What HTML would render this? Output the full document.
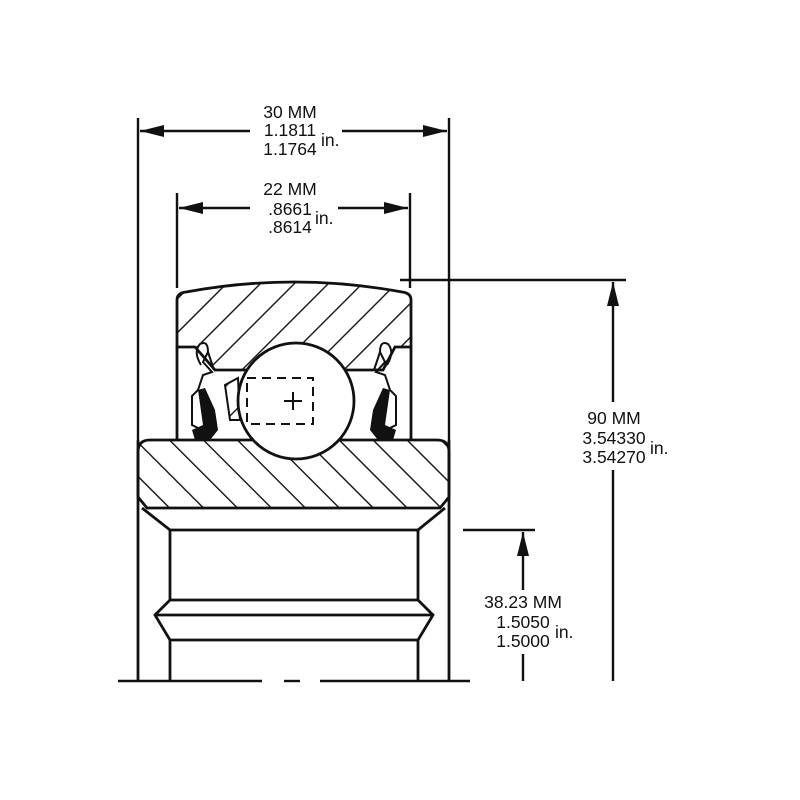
<!DOCTYPE html>
<html><head><style>
html,body{margin:0;padding:0;background:#fff;}
svg{display:block;}
text{font-family:"Liberation Sans",Arial,sans-serif;font-size:17.5px;fill:#111;}
</style></head><body>
<svg width="800" height="800" viewBox="0 0 800 800" xmlns="http://www.w3.org/2000/svg">
<defs>
<pattern id="h1" patternUnits="userSpaceOnUse" width="24" height="24" patternTransform="rotate(45)">
<line x1="0" y1="0" x2="0" y2="24" stroke="#111" stroke-width="2.8"/>
</pattern>
<pattern id="h2" patternUnits="userSpaceOnUse" width="24" height="24" patternTransform="rotate(-45)">
<line x1="0" y1="0" x2="0" y2="24" stroke="#111" stroke-width="2.8"/>
</pattern>
<marker id="ar" viewBox="0 0 20 10" refX="20" refY="5" markerWidth="26" markerHeight="12" markerUnits="userSpaceOnUse" orient="auto">
<path d="M0,0 L20,5 L0,10 Z" fill="#111"/>
</marker>
</defs>
<g stroke="#111" stroke-width="2.4" fill="none">
<line x1="138" y1="118" x2="138" y2="440"/>
<line x1="449" y1="118" x2="449" y2="440"/>
<line x1="177" y1="193" x2="177" y2="288"/>
<line x1="410" y1="193" x2="410" y2="288"/>
<line x1="400" y1="280" x2="626" y2="280"/>
<line x1="463" y1="530" x2="535" y2="530"/>
<line x1="250" y1="131" x2="140" y2="131" marker-end="url(#ar)"/>
<line x1="342" y1="131" x2="447" y2="131" marker-end="url(#ar)"/>
<line x1="250" y1="208" x2="179" y2="208" marker-end="url(#ar)"/>
<line x1="338" y1="208" x2="408" y2="208" marker-end="url(#ar)"/>
<line x1="613" y1="402" x2="613" y2="282" marker-end="url(#ar)"/>
<line x1="613" y1="470" x2="613" y2="681"/>
<line x1="523" y1="590" x2="523" y2="532" marker-end="url(#ar)"/>
<line x1="523" y1="654" x2="523" y2="681"/>
<line x1="118" y1="681" x2="262" y2="681"/>
<line x1="284" y1="681" x2="300" y2="681"/>
<line x1="320" y1="681" x2="470" y2="681"/>
</g>
<path d="M177,300 Q177,293 186,292 Q294,272 402,292 Q411,293 411,300 L411,347 L395,347 L383,370 L345,370 L240,370 L215,370 L195,347 L177,347 Z" fill="url(#h1)" stroke="#111" stroke-width="2.8"/>
<path d="M177,347 L177,440 M411,347 L411,440" stroke="#111" stroke-width="2.8" fill="none"/>
<path d="M138,452 Q138,440 150,440 L437,440 Q449,440 449,452 L449,497 L440,508 L147,508 L138,497 Z" fill="url(#h2)" stroke="#111" stroke-width="2.8"/>
<g stroke="#111" stroke-width="2.8" fill="none">
<line x1="138" y1="440" x2="138" y2="681"/>
<line x1="449" y1="440" x2="449" y2="681"/>
<path d="M142,508 L170,530 L418,530 L445,508"/>
<line x1="170" y1="530" x2="170" y2="600"/>
<line x1="418" y1="530" x2="418" y2="600"/>
<path d="M170,600 L418,600 L433,615 L418,640 L170,640 L155,615 Z"/>
<line x1="155" y1="615" x2="433" y2="615"/>
<line x1="170" y1="640" x2="170" y2="681"/>
<line x1="418" y1="640" x2="418" y2="681"/>
</g>
<path d="M225,385 L238,378 L240,420 L230,420 Z" fill="url(#h1)" stroke="#111" stroke-width="2"/>
<circle cx="296" cy="401" r="58" fill="#fff" stroke="#111" stroke-width="2.8"/>
<rect x="247" y="378" width="66" height="46" fill="none" stroke="#111" stroke-width="2" stroke-dasharray="9,6"/>
<path d="M284,401 L302,401 M293,392 L293,410" stroke="#111" stroke-width="2"/>
<g stroke="#111" stroke-width="2" fill="none">
<path d="M201,365 Q193,352 200,344 Q208,340 208,352 L203,362 L212,372 L203,375 L198,390 L192,396 L192,425 L198,428"/>
<path d="M208,352 L214,370"/>
</g>
<path d="M198,390 L205,388 L215,410 L218,430 L210,440 L195,440 L192,430 L203,425 Z" fill="#111"/>
<g stroke="#111" stroke-width="2" fill="none">
<path d="M387,365 Q395,352 388,344 Q380,340 380,352 L385,362 L376,372 L385,375 L390,390 L396,396 L396,425 L390,428"/>
<path d="M380,352 L374,370"/>
</g>
<path d="M390,390 L383,388 L373,410 L370,430 L378,440 L393,440 L396,430 L385,425 Z" fill="#111"/>
<text x="290" y="118" text-anchor="middle">30 MM</text>
<text x="290" y="136" text-anchor="middle">1.1811</text>
<text x="290" y="155" text-anchor="middle">1.1764</text>
<text x="321" y="146">in.</text>
<text x="290" y="195" text-anchor="middle">22 MM</text>
<text x="290" y="215" text-anchor="middle">.8661</text>
<text x="290" y="233" text-anchor="middle">.8614</text>
<text x="315" y="224">in.</text>
<text x="614" y="424" text-anchor="middle">90 MM</text>
<text x="614" y="444" text-anchor="middle">3.54330</text>
<text x="614" y="463" text-anchor="middle">3.54270</text>
<text x="650" y="454">in.</text>
<text x="523" y="608" text-anchor="middle">38.23 MM</text>
<text x="523" y="628" text-anchor="middle">1.5050</text>
<text x="523" y="647" text-anchor="middle">1.5000</text>
<text x="555" y="638">in.</text>
</svg>
</body></html>
